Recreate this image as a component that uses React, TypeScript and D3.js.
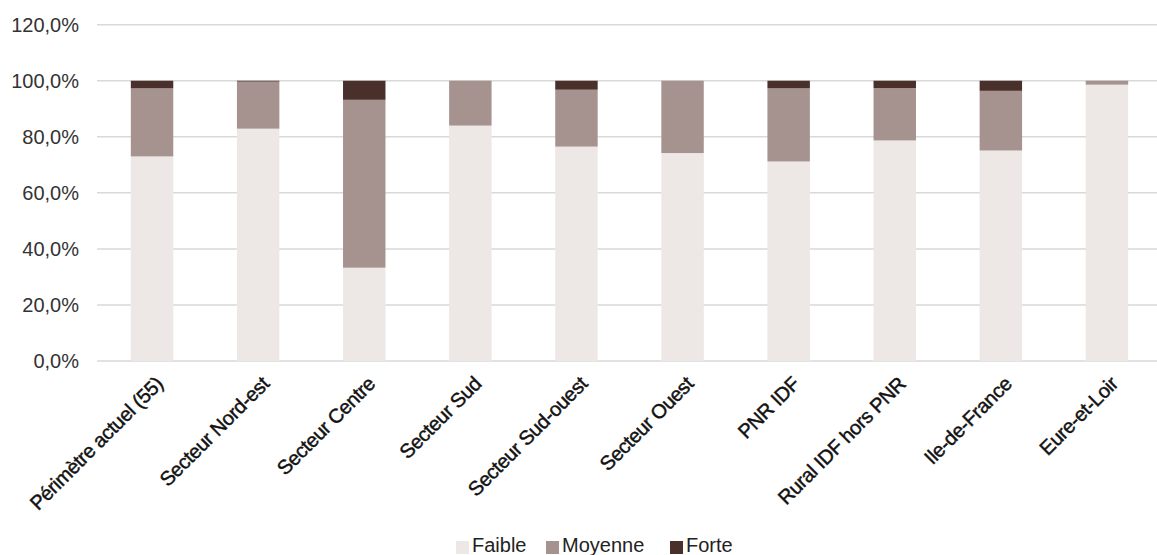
import React from "react";
import * as d3 from "d3";

// Répartition des niveaux (part de chaque catégorie, en %)
const categories = [
  "Périmètre actuel (55)",
  "Secteur Nord-est",
  "Secteur Centre",
  "Secteur Sud",
  "Secteur Sud-ouest",
  "Secteur Ouest",
  "PNR IDF",
  "Rural IDF hors PNR",
  "Ile-de-France",
  "Eure-et-Loir",
];
const faible = [73.0, 82.9, 33.3, 84.0, 76.5, 74.2, 71.2, 78.7, 75.1, 98.6];
const moyenne = [24.3, 16.8, 59.9, 16.0, 20.3, 25.8, 26.1, 18.7, 21.3, 1.4];
const forte = [2.7, 0.3, 6.8, 0.0, 3.2, 0.0, 2.7, 2.6, 3.6, 0.0];
const seriesNames = ["Faible", "Moyenne", "Forte"];
const yTicks = [0, 20, 40, 60, 80, 100, 120];

const W = 1157;
const H = 555;
const colors = ["#ede7e6", "#a6938f", "#4a302b"];
const font = "'Liberation Sans', Arial, sans-serif";

export default function App() {
  const x = d3
    .scaleBand<string>()
    .domain(categories)
    .range([99, 1160])
    .paddingInner(0.6)
    .paddingOuter(0.3);
  const y = d3.scaleLinear().domain([0, 120]).range([361, 24.7]);

  const rows = categories.map((c, i) => ({
    cat: c,
    Faible: faible[i],
    Moyenne: moyenne[i],
    Forte: forte[i],
  }));
  const stacked = d3.stack<any>().keys(seriesNames)(rows);
  const fmt = (v: number) => v.toFixed(1).replace(".", ",") + "%";

  const legend = [
    { name: "Faible", sq: 456, tx: 472 },
    { name: "Moyenne", sq: 546, tx: 562 },
    { name: "Forte", sq: 670, tx: 686 },
  ];

  return (
    <svg
      width={W}
      height={H}
      style={{ position: "absolute", left: 0, top: 0, background: "#fff" }}
      fontFamily={font}
    >
      {yTicks.map((t) => (
        <g key={t}>
          <line
            x1={97}
            x2={W}
            y1={y(t)}
            y2={y(t)}
            stroke="#d9d9d9"
            strokeWidth={1.5}
          />
          <text
            x={79}
            y={y(t)}
            textAnchor="end"
            dominantBaseline="central"
            fontSize={20}
            fill="#333"
          >
            {fmt(t)}
          </text>
        </g>
      ))}
      {stacked.map((s, si) => (
        <g key={s.key} fill={colors[si]}>
          {s.map((d, i) => (
            <rect
              key={i}
              x={x(categories[i])}
              width={x.bandwidth()}
              y={y(d[1])}
              height={Math.max(0, y(d[0]) - y(d[1]))}
            />
          ))}
        </g>
      ))}
      {categories.map((c) => {
        const cx = (x(c) as number) + x.bandwidth() / 2;
        return (
          <text
            key={c}
            transform={`translate(${cx + 2},${375}) rotate(-45)`}
            textAnchor="end"
            dy="0.72em"
            fontSize={20}
            letterSpacing={-0.4}
            fill="#111"
            stroke="#111"
            strokeWidth={0.45}
          >
            {c}
          </text>
        );
      })}
      {legend.map((l, i) => (
        <g key={l.name}>
          <rect x={l.sq} y={541} width={13} height={13} fill={colors[i]} />
          <text x={l.tx} y={552} fontSize={20} fill="#222">
            {l.name}
          </text>
        </g>
      ))}
    </svg>
  );
}
